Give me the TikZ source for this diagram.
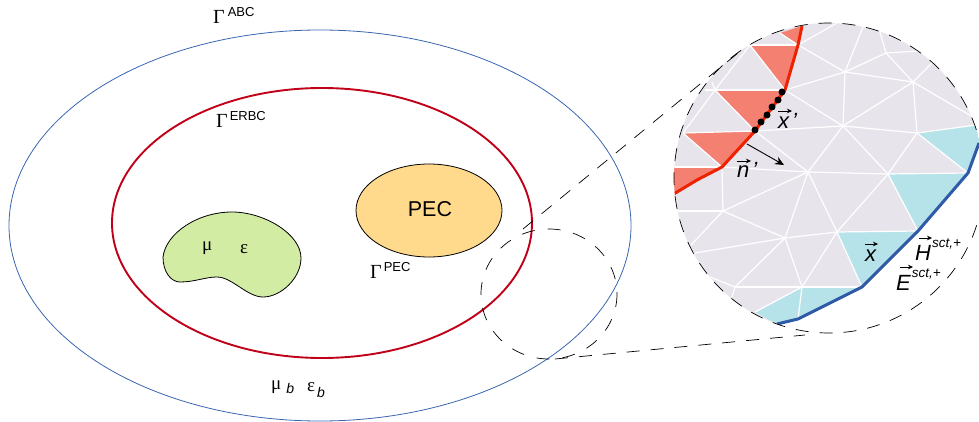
\documentclass[tikz,border=0pt]{standalone}
\usepackage{fontspec}
\setmainfont{Liberation Sans}
\newfontfamily\gkf{Liberation Serif}
\usetikzlibrary{arrows.meta}
\definecolor{meshgray}{HTML}{E8E4EC}
\definecolor{pinkc}{HTML}{F48072}
\definecolor{redl}{HTML}{EE2200}
\definecolor{cyanc}{HTML}{B6E3E9}
\definecolor{bluel}{HTML}{2F5AA8}
\definecolor{outerb}{HTML}{3A66B0}
\definecolor{redell}{HTML}{C00018}
\definecolor{greenb}{HTML}{D3ECA4}
\definecolor{orangeb}{HTML}{FFD98C}
\newcommand{\gam}[2]{{\gkf\fontsize{20}{20}\selectfont Γ}\kern#2pt{\fontsize{13}{13}\selectfont\raisebox{7pt}{#1}}}
\newcommand{\sctsup}{\raisebox{13pt}{\fontsize{13.5}{13.5}\selectfont\itshape sct,+}}
\newcommand{\subb}[1]{\raisebox{-#1pt}{\normalfont\fontsize{14}{14}\selectfont\itshape b}}
\tikzset{
  edgew/.style={draw=white,line width=1.2pt},
  dashl/.style={draw=black,line width=0.7pt,dash pattern=on 13pt off 11pt},
  lab/.style={inner sep=0pt,anchor=base west,font=\gkf\fontsize{19}{19}\selectfont},
  vlab/.style={inner sep=0pt,anchor=base west,font=\fontsize{22}{22}\selectfont\itshape},
  varrow/.style={black,line width=0.6pt,-{Stealth[length=5pt,width=4.5pt]}},
  dot/.style={circle,fill=black,inner sep=0pt,minimum size=7pt}
}
\begin{document}
\begin{tikzpicture}[x=1pt,y=-1pt]
\clip (0,0) rectangle (979,422);
\draw[outerb,line width=0.8pt] (320,225.5) ellipse [x radius=311,y radius=195.5];
\draw[redell,line width=1.9pt] (322,223) ellipse [x radius=210,y radius=135];
\draw[black,fill=orangeb,line width=0.8pt] (429,210.5) ellipse [x radius=73,y radius=46.5];
\node[inner sep=0pt,anchor=base,font=\fontsize{21.5}{21.5}\selectfont] (pec) at (430,216) {PEC};
\draw[black,fill=greenb,line width=0.8pt] (163,257)
  .. controls (166,233) and (198,212) .. (232,212)
  .. controls (264,212) and (301,234) .. (301,258)
  .. controls (301,278) and (281,297) .. (263,297)
  .. controls (247,297) and (232,277) .. (217,277)
  .. controls (205,277) and (195,282) .. (180,282)
  .. controls (171,282) and (163,272) .. (163,257) -- cycle;
\node[lab] (mu) at (202,250) {μ};
\node[lab] (eps) at (240,253) {ε};
% vertices
\coordinate (A) at (798,45);
\coordinate (Top) at (802,26);
\coordinate (Tp) at (780,33);
\coordinate (T1) at (837,23);
\coordinate (T2) at (863,27);
\coordinate (T3) at (880,32);
\coordinate (T4) at (920,51);
\coordinate (T5) at (933,62);
\coordinate (R1) at (973,117);
\coordinate (R2) at (976,125);
\coordinate (B) at (785,90);
\coordinate (C) at (845,72);
\coordinate (D) at (913,82);
\coordinate (E) at (886,53);
\coordinate (G) at (843,126);
\coordinate (H) at (917,133);
\coordinate (I) at (808,172);
\coordinate (J) at (888,174);
\coordinate (K) at (968,173);
\coordinate (L1) at (750,45);
\coordinate (L2) at (715,90);
\coordinate (L3) at (705,90);
\coordinate (L4) at (712,82);
\coordinate (L5) at (683,133);
\coordinate (L6) at (755,131);
\coordinate (L7) at (722,167);
\coordinate (L8) at (672,167);
\coordinate (L9) at (697,180);
\coordinate (L10) at (672,195);
\coordinate (M) at (723,211);
\coordinate (M1) at (676,211);
\coordinate (M2) at (691,245);
\coordinate (M3) at (695,253);
\coordinate (N) at (785,238);
\coordinate (Lq) at (837,232);
\coordinate (Bb) at (918,231);
\coordinate (Cc) at (862,287);
\coordinate (O) at (802,287);
\coordinate (P) at (735,287);
\coordinate (Q) at (732,297);
\coordinate (Rr) at (710,277);
\coordinate (S) at (755,312);
\coordinate (Dd) at (798,319);
\coordinate (Ee) at (777,324);
\coordinate (Rt) at (979,143);
\coordinate (Lbig) at (829,178);
% mesh
\begin{scope}
\clip (Lbig) circle [radius=155];
\fill[meshgray] (Ee) -- (Dd) -- (Cc) -- (Bb) -- (K) -- (Rt) -- (1000,120) -- (1000,0) -- (600,0) -- (600,345) -- (770,345) -- cycle;
\fill[pinkc] (Tp) -- (Top) -- (A) -- cycle;
\fill[pinkc] (L1) -- (A) -- (B) -- cycle;
\fill[pinkc] (L2) -- (B) -- (L6) -- cycle;
\fill[pinkc] (L5) -- (L6) -- (L7) -- cycle;
\fill[pinkc] (L8) -- (L7) -- (L9) -- (L10) -- cycle;
\fill[cyanc] (H) -- (R2) -- (990,125) -- (990,130) -- (Rt) -- (K) -- cycle;
\fill[cyanc] (J) -- (K) -- (Bb) -- cycle;
\fill[cyanc] (Lq) -- (Bb) -- (Cc) -- cycle;
\fill[cyanc] (O) -- (Cc) -- (Dd) -- cycle;
\fill[cyanc] (O) -- (Dd) -- (Ee) -- (S) -- cycle;
\foreach \a/\b in {A/C,B/C,A/T1,C/T2,C/E,E/T3,E/D,C/D,E/T4,D/T5,D/H,D/G,D/R1,C/G,B/G,G/L6,G/H,H/R2,H/K,H/J,G/I,G/J,L6/I,L7/I,I/J,J/K,
  L1/A,L1/B,L1/L2,L2/B,L2/L3,L2/L4,L2/L6,L2/L5,L5/L6,L5/L7,L7/L8,L7/M,M/I,M/M1,M/M2,M/N,N/I,I/Lq,Lq/J,Lq/O,Lq/N,N/M3,N/P,N/O,Lq/Cc,J/Bb,P/O,P/Rr,P/Q,O/S,O/Dd,Lq/Bb,O/Cc,Tp/A}{
  \draw[edgew] (\a) -- (\b);
}
\draw[redl,line width=3pt] (Top) -- (A) -- (B) -- (L6) -- (L7) -- (L9) -- (L10);
\draw[bluel,line width=3pt] (Ee) -- (Dd) -- (Cc) -- (Bb) -- (K) -- (Rt);
\end{scope}
\draw[dashl] (Lbig) circle [radius=155];
\draw[black,line width=0.7pt,dash pattern=on 13pt off 13pt] (549,294) ellipse [x radius=68,y radius=65];
\coordinate (da) at (523,229);
\coordinate (db) at (738,53);
\coordinate (dc) at (555,359);
\coordinate (dd) at (805,335);
\draw[dashl] (da) -- (db);
\draw[dashl] (dc) -- (dd);
% dots
\node[dot] (d1) at (755,130) {};
\node[dot] (d2) at (761,122) {};
\node[dot] (d3) at (767,115) {};
\node[dot] (d4) at (772,107) {};
\node[dot] (d5) at (778,100) {};
\node[dot] (d6) at (782,92) {};
\coordinate (na) at (747,144);
\coordinate (nb) at (784,165);
\draw[black,line width=0.9pt,-{Stealth[length=9pt,width=8pt]}] (na) -- (nb);
\node[vlab] (xp) at (778,129) {x\kern3pt'};
\node[vlab] (np) at (737,178) {n\kern3pt'};
\node[vlab] (xv) at (865,261) {x};
\node[vlab] (hv) at (915,260) {H\kern1pt\sctsup};
\node[vlab] (ev) at (896,290) {E\kern1pt\sctsup};
\coordinate (xpa) at (778,111); \coordinate (xpb) at (792,111);
\coordinate (npa) at (737,161); \coordinate (npb) at (751,161);
\coordinate (xva) at (865,244); \coordinate (xvb) at (878,244);
\coordinate (hva) at (919,238); \coordinate (hvb) at (932,238);
\coordinate (eva) at (900,267); \coordinate (evb) at (913,267);
\draw[varrow] (xpa) -- (xpb);
\draw[varrow] (npa) -- (npb);
\draw[varrow] (xva) -- (xvb);
\draw[varrow] (hva) -- (hvb);
\draw[varrow] (eva) -- (evb);
\node[lab,font=\normalfont] (g1) at (213,24) {\gam{ABC}{3}};
\node[lab,font=\normalfont] (g2) at (216,128) {\gam{ERBC}{2}};
\node[lab,font=\normalfont] (g3) at (370,278) {\gam{PEC}{2}};
\node[lab] (mb) at (271,389) {μ\kern5pt\subb{4}};
\node[lab] (eb) at (307,391) {ε\kern2pt\subb{6}};
\end{tikzpicture}
\end{document}
